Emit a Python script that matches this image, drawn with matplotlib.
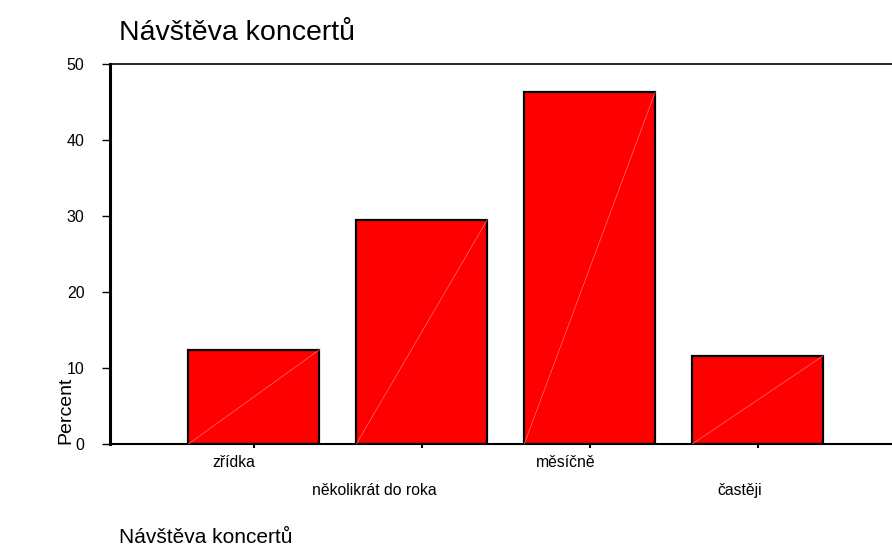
import matplotlib.pyplot as plt
import matplotlib.transforms as mtransforms

plt.rcParams['font.family'] = ['Liberation Sans', 'DejaVu Sans']

categories = ['zřídka', 'několikrát do roka', 'měsíčně', 'častěji']
percent = [12.4, 29.5, 46.3, 11.6]
label_shift_px = [-20, -48, -24, -18]  # labels sit left of the ticks

fig = plt.figure(figsize=(8.92, 5.47), dpi=100)
ax = fig.add_axes([0.1233, 0.1883, 0.8767, 0.6947])

x = list(range(len(categories)))
width = 0.78
ax.bar(x, percent, width=width, color='#ff0000', edgecolor='black', linewidth=1.6, zorder=2)
# faint diagonal line inside each bar
for xi, v in zip(x, percent):
    ax.plot([xi - width / 2, xi + width / 2], [0, v], color='#ff7070', linewidth=0.5, zorder=3)

ax.set_xlim(-0.857, 3.8)
ax.set_ylim(0, 50)
ax.set_yticks([0, 10, 20, 30, 40, 50])
ax.tick_params(axis='y', direction='out', length=5.8, width=1, labelsize=11.5, pad=12.5)
ax.tick_params(axis='x', direction='out', length=3, width=1.5, labelsize=11.3, pad=5)

ax.set_xticks(x)
labels = [c if i % 2 == 0 else '\n' + c for i, c in enumerate(categories)]
ax.set_xticklabels(labels, linespacing=2.05)
for lab, dx in zip(ax.get_xticklabels(), label_shift_px):
    lab.set_transform(lab.get_transform() + mtransforms.Affine2D().translate(dx, 0))

ax.spines['right'].set_visible(False)
ax.spines['left'].set_linewidth(2.2)
ax.spines['top'].set_linewidth(1.2)
ax.spines['bottom'].set_linewidth(1.5)

fig.text(119 / 892, 1 - 33 / 547, 'Návštěva koncertů', fontsize=20.5, va='center', ha='left')
fig.text(119 / 892, 1 - 543 / 547, 'Návštěva koncertů', fontsize=15, va='baseline', ha='left')
fig.text(66 / 892, 1 - 410 / 547, 'Percent', rotation=90, fontsize=14, va='center', ha='center')

fig.savefig('out.png', dpi=100)
